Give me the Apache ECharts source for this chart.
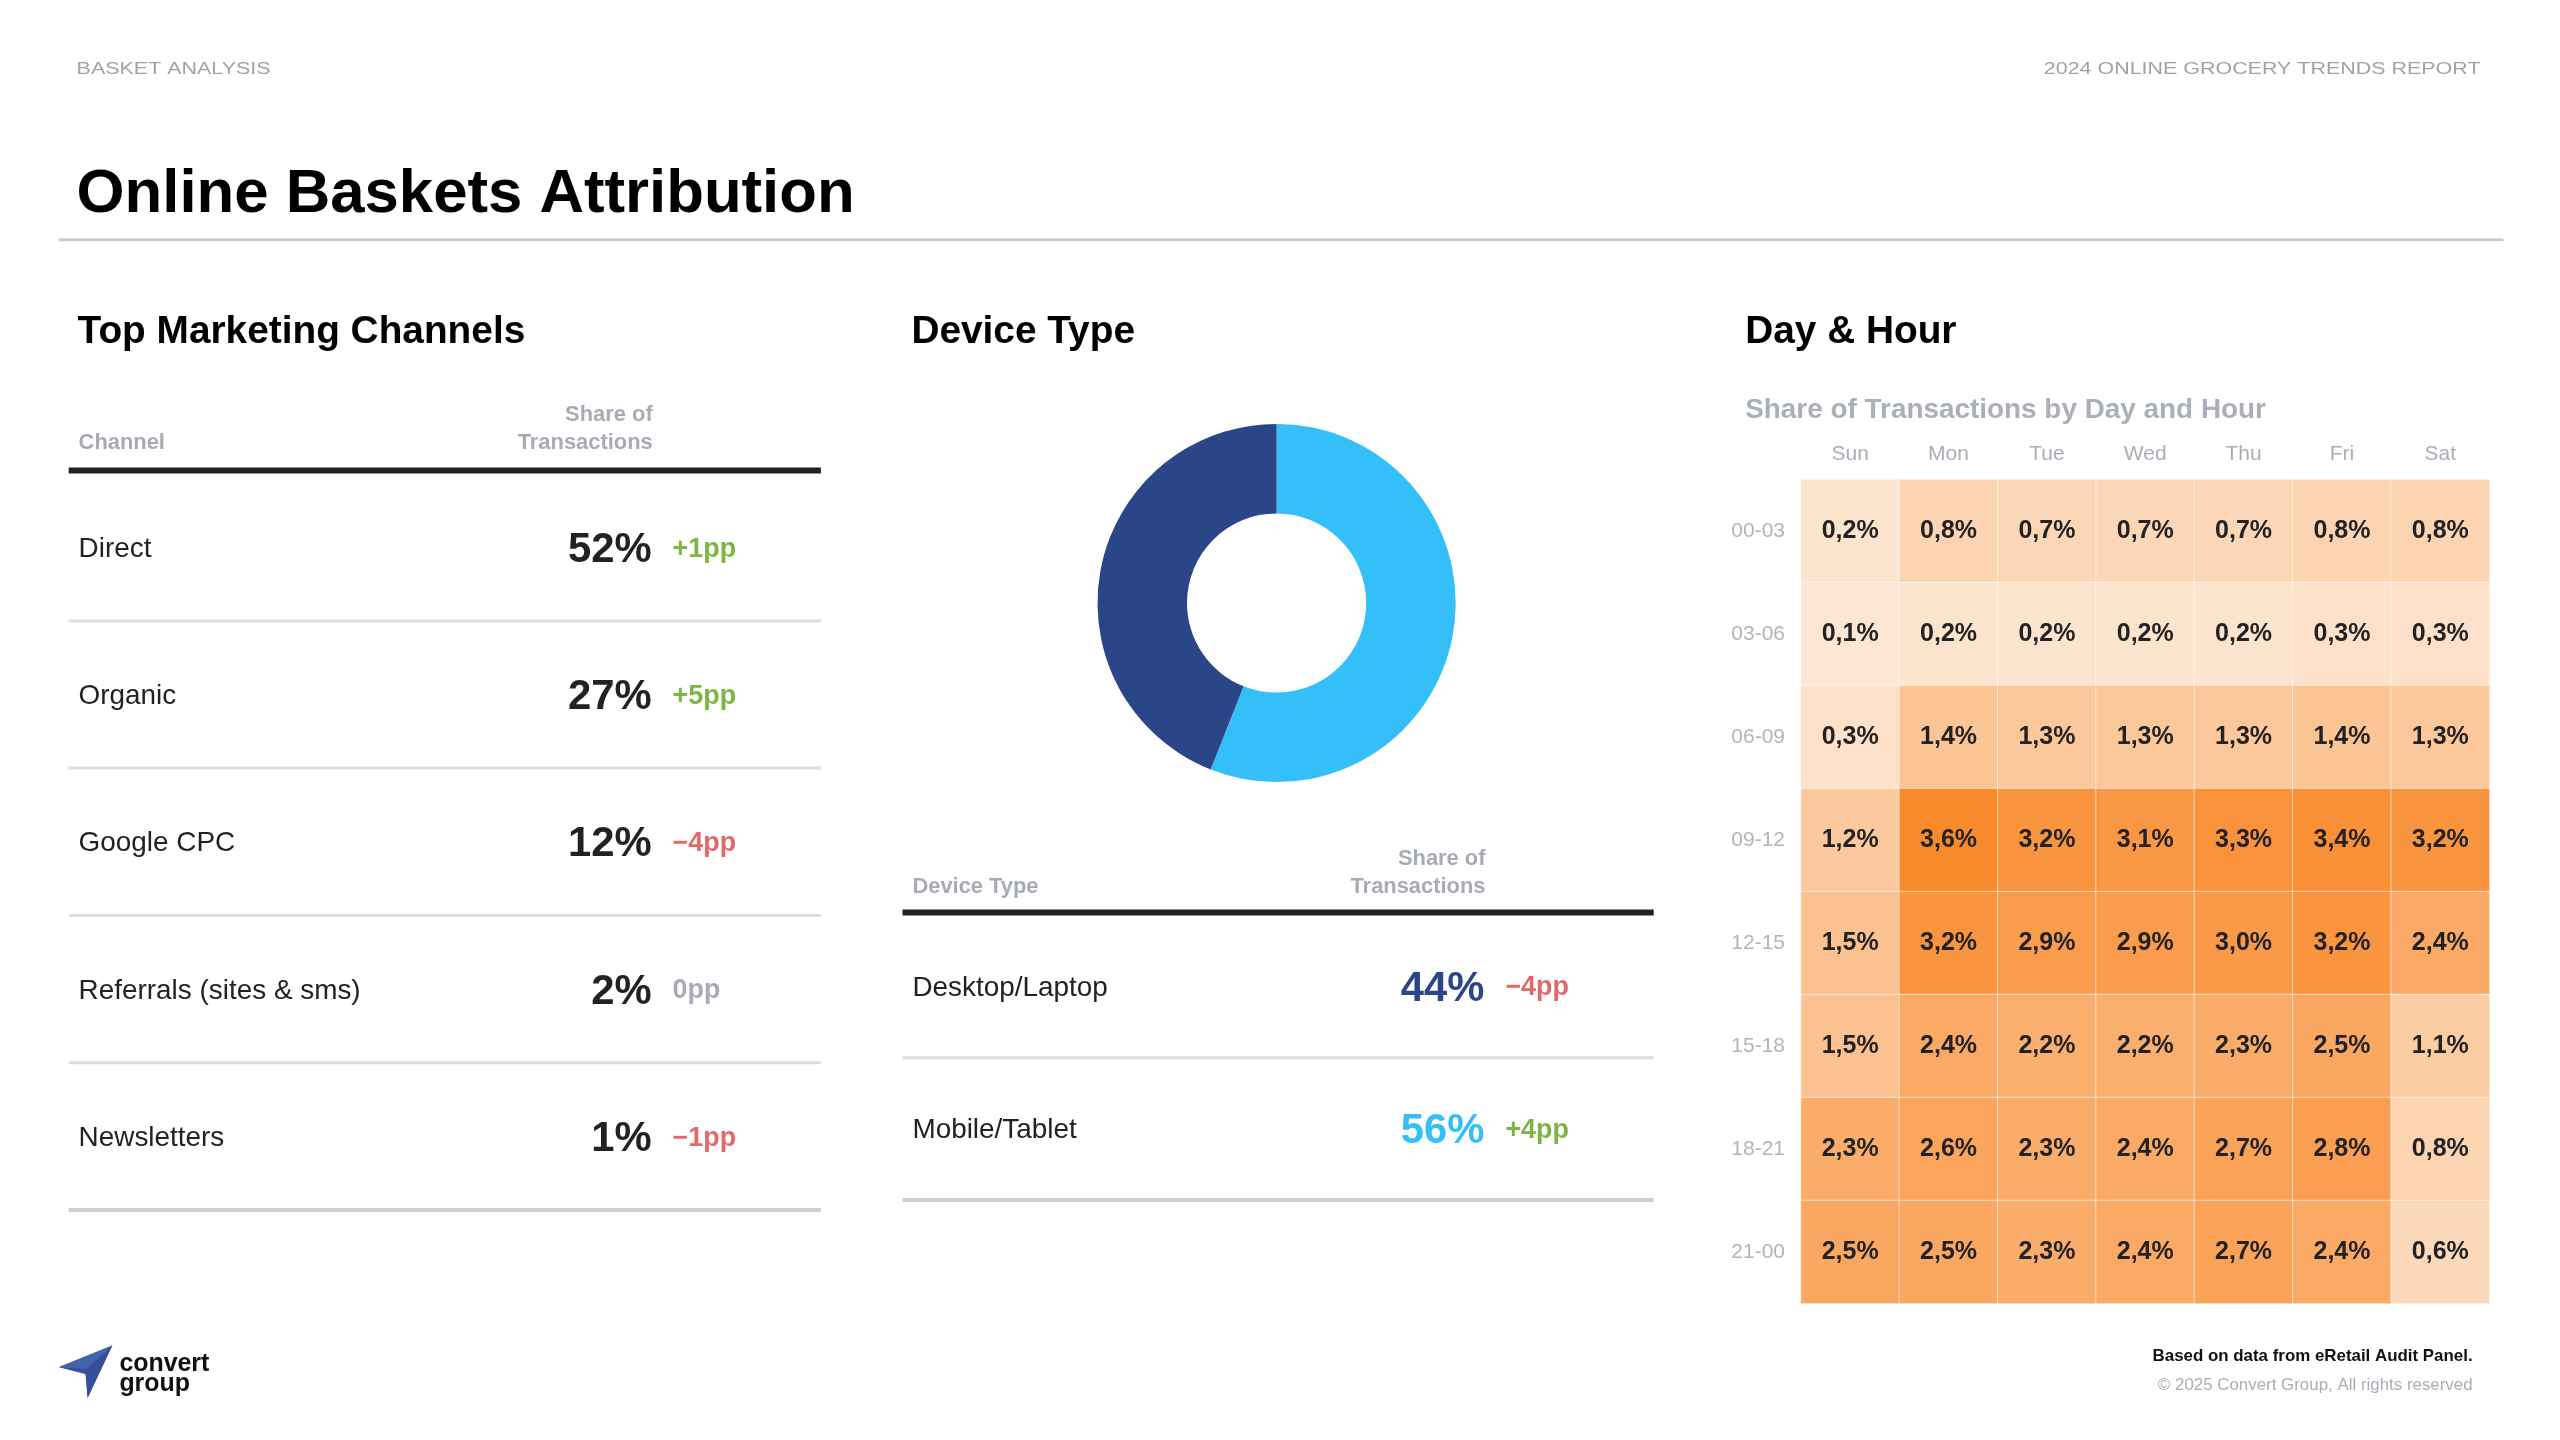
<!DOCTYPE html>
<html>
<head>
<meta charset="utf-8">
<script src="https://cdn.jsdelivr.net/npm/echarts@6/dist/echarts.min.js"></script>
<style>
html,body{margin:0;padding:0;background:#fff;}
#c{width:2560px;height:1440px;}
</style>
</head>
<body>
<div id="c"></div>
<script>
// ---- data ----
const channels = ['Direct', 'Organic', 'Google CPC', 'Referrals (sites & sms)', 'Newsletters'];
const channelShare = [52, 27, 12, 2, 1];
const channelDelta = [1, 5, -4, 0, -1];

const devices = ['Desktop/Laptop', 'Mobile/Tablet'];
const deviceShare = [44, 56];
const deviceDelta = [-4, 4];

const days = ['Sun', 'Mon', 'Tue', 'Wed', 'Thu', 'Fri', 'Sat'];
const hours = ['00-03', '03-06', '06-09', '09-12', '12-15', '15-18', '18-21', '21-00'];
const h0003 = [0.2, 0.8, 0.7, 0.7, 0.7, 0.8, 0.8];
const h0306 = [0.1, 0.2, 0.2, 0.2, 0.2, 0.3, 0.3];
const h0609 = [0.3, 1.4, 1.3, 1.3, 1.3, 1.4, 1.3];
const h0912 = [1.2, 3.6, 3.2, 3.1, 3.3, 3.4, 3.2];
const h1215 = [1.5, 3.2, 2.9, 2.9, 3.0, 3.2, 2.4];
const h1518 = [1.5, 2.4, 2.2, 2.2, 2.3, 2.5, 1.1];
const h1821 = [2.3, 2.6, 2.3, 2.4, 2.7, 2.8, 0.8];
const h2100 = [2.5, 2.5, 2.3, 2.4, 2.7, 2.4, 0.6];
const hourRows = [h0003, h0306, h0609, h0912, h1215, h1518, h1821, h2100];

// ---- styles ----
const S = 0.995; // layout scale
function s(v) { return Math.round(v * S * 10) / 10; }
const FONT = '"Liberation Sans", Arial, Helvetica, sans-serif';
const GRAY = '#a7acb4';
const GREEN = '#7cb544';
const RED = '#e36868';
const DARK = '#222222';
const NAVY = '#2b4589';
const SKY = '#35bff8';

function deltaText(d) { return (d > 0 ? '+' : d < 0 ? '\u2212' : '') + Math.abs(d) + 'pp'; }
function deltaColor(d) { return d > 0 ? GREEN : d < 0 ? RED : GRAY; }

function txt(x, y, text, size, opts) {
  opts = opts || {};
  const el = {
    type: 'text', x: s(x), y: s(y), silent: true,
    style: {
      text: text, fill: opts.color || DARK, font: (opts.weight || 'normal') + ' ' + s(size) + 'px ' + FONT,
      align: opts.align || 'left', verticalAlign: opts.va || 'middle', lineHeight: opts.lh ? s(opts.lh) : undefined
    }
  };
  if (opts.scaleX) el.scaleX = opts.scaleX;
  return el;
}
function hline(x1, x2, y, w, color) {
  return { type: 'line', silent: true, shape: { x1: s(x1), y1: s(y), x2: s(x2), y2: s(y) }, style: { stroke: color, lineWidth: w } };
}

const g = [];
// header
g.push(txt(77, 70, 'BASKET ANALYSIS', 17, { color: '#9ea3ab', scaleX: 1.27 }));
g.push(txt(2493, 70, '2024 ONLINE GROCERY TRENDS REPORT', 17, { color: '#9ea3ab', align: 'right', scaleX: 1.27 }));
g.push(txt(77, 196, 'Online Baskets Attribution', 62, { weight: 'bold', color: '#000' }));
g.push(hline(59, 2516, 241, 3, '#cccccc'));

// section titles
g.push(txt(78, 334, 'Top Marketing Channels', 39, { weight: 'bold', color: '#000' }));
g.push(txt(916, 334, 'Device Type', 39, { weight: 'bold', color: '#000' }));
g.push(txt(1754, 334, 'Day & Hour', 39, { weight: 'bold', color: '#000' }));
g.push(txt(1754, 412, 'Share of Transactions by Day and Hour', 28, { weight: 'bold', color: '#abb0b8' }));

// channel table
g.push(txt(79, 445, 'Channel', 22, { weight: 'bold', color: GRAY }));
g.push(txt(656, 431, 'Share of\nTransactions', 22, { weight: 'bold', color: GRAY, align: 'right', lh: 28 }));
g.push(hline(69, 825, 473, 6, DARK));
channels.forEach(function (name, i) {
  const y = 552 + i * 148;
  g.push(txt(79, y, name, 28, { color: DARK }));
  g.push(txt(655, y + 1, channelShare[i] + '%', 42, { weight: 'bold', color: DARK, align: 'right' }));
  g.push(txt(676, y, deltaText(channelDelta[i]), 27, { weight: 'bold', color: deltaColor(channelDelta[i]) }));
  const last = i === channels.length - 1;
  g.push(hline(69, 825, y + 72, last ? 4 : 3, last ? '#d0d0d0' : '#dddddd'));
});

// device table
g.push(txt(917, 891, 'Device Type', 22, { weight: 'bold', color: GRAY }));
g.push(txt(1493, 877, 'Share of\nTransactions', 22, { weight: 'bold', color: GRAY, align: 'right', lh: 28 }));
g.push(hline(907, 1662, 917, 6, DARK));
const deviceColors = [NAVY, SKY];
devices.forEach(function (name, i) {
  const y = 993 + i * 143;
  g.push(txt(917, y, name, 28, { color: DARK }));
  g.push(txt(1492, y + 1, deviceShare[i] + '%', 42, { weight: 'bold', color: deviceColors[i], align: 'right' }));
  g.push(txt(1513, y, deltaText(deviceDelta[i]), 27, { weight: 'bold', color: deltaColor(deviceDelta[i]) }));
  const last = i === devices.length - 1;
  g.push(hline(907, 1662, y + 70, last ? 4 : 3, last ? '#d0d0d0' : '#dddddd'));
});

// footer
g.push(txt(2485, 1363, 'Based on data from eRetail Audit Panel.', 17, { weight: 'bold', color: '#111', align: 'right' }));
g.push(txt(2485, 1392, '\u00A9 2025 Convert Group, All rights reserved', 17, { color: '#a9aeb6', align: 'right' }));

// logo
function pts(arr) { return arr.map(function (p) { return [s(p[0]), s(p[1])]; }); }
g.push({ type: 'polygon', silent: true, shape: { points: pts([[59, 1374], [113, 1352], [88, 1405], [86, 1381]]) }, style: { fill: '#4262ae' } });
g.push({ type: 'polygon', silent: true, shape: { points: pts([[59, 1374], [86, 1381], [88, 1405], [113, 1352], [87, 1376]]) }, style: { fill: '#344f98' } });
g.push(txt(120, 1371, 'convert', 25, { weight: 'bold', color: '#111' }));
g.push(txt(120, 1391, 'group', 25, { weight: 'bold', color: '#111' }));

// heatmap data
const heatData = [];
hourRows.forEach(function (row, r) {
  row.forEach(function (v, c) { heatData.push([c, r, v]); });
});

const option = {
  backgroundColor: '#ffffff',
  animation: false,
  graphic: { elements: g },
  grid: { left: s(1810), top: s(482), width: s(692), height: s(828) },
  xAxis: {
    type: 'category', data: days, position: 'top',
    axisLine: { show: false }, axisTick: { show: false }, splitLine: { show: false },
    axisLabel: { color: '#a9aeb6', fontSize: 21, fontFamily: FONT, margin: 15 }
  },
  yAxis: {
    type: 'category', data: hours, inverse: true,
    axisLine: { show: false }, axisTick: { show: false }, splitLine: { show: false },
    axisLabel: { color: '#b0b4bb', fontSize: 21, fontFamily: FONT, margin: 16 }
  },
  visualMap: {
    show: false, type: 'continuous', min: 0, max: 3.6, seriesIndex: 1, dimension: 2,
    inRange: { color: ['#fde9d8', '#f98a2c'] }
  },
  series: [
    {
      type: 'pie', center: [s(1283), s(606)], radius: [s(90), s(180)], startAngle: 90, clockwise: true,
      label: { show: false }, labelLine: { show: false }, silent: true,
      itemStyle: { borderWidth: 0 },
      data: [
        { name: devices[1], value: deviceShare[1], itemStyle: { color: SKY } },
        { name: devices[0], value: deviceShare[0], itemStyle: { color: NAVY } }
      ]
    },
    {
      type: 'heatmap', data: heatData,
      itemStyle: { borderColor: 'rgba(255,255,255,0.55)', borderWidth: 1 },
      label: {
        show: true, color: DARK, fontSize: 25, fontWeight: 'bold', fontFamily: FONT,
        formatter: function (p) { return p.value[2].toFixed(1).replace('.', ',') + '%'; }
      },
      emphasis: { disabled: true }
    }
  ]
};

const chart = echarts.init(document.getElementById('c'), null, { renderer: 'canvas' });
chart.setOption(option);
</script>
</body>
</html>
